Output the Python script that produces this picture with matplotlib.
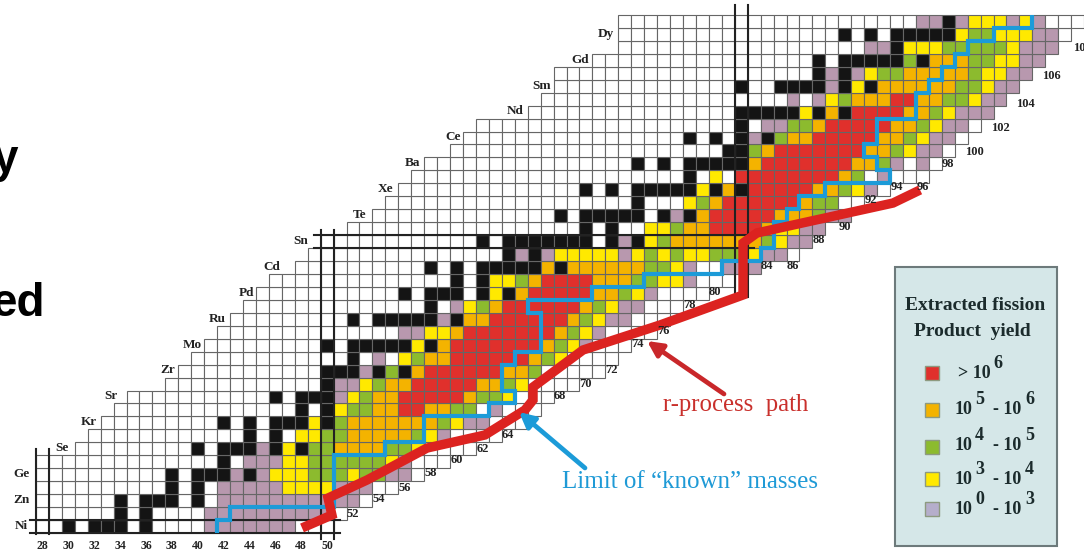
import matplotlib
matplotlib.use('Agg')
import matplotlib.pyplot as plt

# proton number of every row of the chart
z_rows = list(range(28, 68))
row_start = [28, 28, 28, 28, 28, 28, 31, 32, 33, 34, 35, 38, 39, 40, 41, 42, 43, 44, 45, 46,
             48, 49, 50, 52, 54, 55, 56, 57, 58, 60, 61, 62, 66, 67, 68, 68, 71, 73, 73, 73]
row_end = [50, 51, 53, 55, 57, 59, 61, 63, 65, 66, 67, 69, 71, 72, 73, 75, 76, 77, 79, 81,
           83, 86, 87, 88, 90, 91, 93, 96, 97, 98, 99, 100, 101, 102, 103, 104, 105, 106, 107, 108]

# first neutron number with a mark in the row, then one letter per cell
# K stable, P 1e0-1e3, Y 1e3-1e4, G 1e4-1e5, O 1e5-1e6, R >1e6, . nothing
first_mark = [30, 34, 34, 38, 38, 42, 40, 44, 42, 48, 46, 50, 50, 52, 50, 56, 52, 58, 56, 60,
              58, 64, 62, 70, 68, 74, 70, 78, 74, 81, 78, 82, 82, 86, 82, 88, 88, 92, 90, 96]
marks = [
    "K.KKK.K....PPPPPPP",
    "K.K....PPPPPPPPPP",
    "K.KKK.K.PPPPPPPPPPP",
    "K.K.PPPPPYYYYPPP",
    "K.KKKPKPYYYGGGYGGPP",
    "K.PPPYYGGGGGGYP",
    "K.KKKPKYKGGOOOOGGY",
    "K.K.YYGGOOOOOGYP",
    "K.K.KKKYKGOOOOOOOGYPP",
    "K.KYGGOORROOGG.P",
    "K.KKKPYGOORRRRROGGY",
    "KPPYGOORRRRROOGY",
    "KKKPKGKORRRRRROOG",
    "K.P.YGOORRRRRROGY",
    "K.KKKKKYKORRRRRRROGYP",
    "PPYYORRRRRRROGYP",
    "K.KKKKKPKOORRRRRROGYPP",
    "K.PYGORRRRRROGYPP",
    "K.KKK.KYKORRRRROOGYP",
    "K.KYYGORRRROOOGGYYP",
    "K.K.KKKKKOKOOOOOOGGYP..PPP",
    "KPKPYYYYYPYGYGYYGGGYPP",
    "K.KKKKKKK.KPKYGOOOOOOOGYPP",
    "K.K..YYGOORRRROYYPP",
    "K.KKKKK.KPKORRRRROOOGPP",
    "K...YGORRRRRROGG",
    "K.K.KKKKKYKOKRRRRROOGYP",
    "K.Y.RRRRRRRROG.P",
    "K.K.KKKKKORRRRRRROOGP.P",
    "KKGORRRRRRROOGYPP",
    "K.K.KPKGOORRRRROOGYPP",
    "K.PPGGORRRRROOGYPP",
    "KKKKKYKOKRRRROOGYPPP",
    "P.PYGOOORROOGGYPP",
    "K..KKKKPKYKOOOOOOGGYPP",
    "KPKPYGGOOOOOGYYPP",
    "K.KKKKKGKOOOGGYYPP",
    "PPKYYYGGGGGYPPP",
    "K.K.KKKKKYGGYYYPP",
    "PPKPYYYPYP",
]
cell_colors = {'.': 'white', 'K': '#141414', 'P': '#b898ae', 'Y': '#ffe900',
               'G': '#8cbb2e', 'O': '#f4b300', 'R': '#e0302c'}

# limit of known masses and r-process path, in cell edges
blue_n = [42, 42, 43, 43, 51, 51, 55, 55, 58, 58, 63, 63, 65, 65, 64, 64, 65, 65, 67, 67, 66, 66,
          71, 71, 75, 75, 81, 81, 84, 84, 85, 85, 86, 86, 87, 87, 89, 89, 94, 94, 93, 93, 92, 92,
          93, 93, 96, 96, 97, 97, 98, 98, 99, 99, 100, 100, 102, 102, 105, 105]
blue_z = [28, 29, 29, 30, 30, 34, 34, 35, 35, 37, 37, 38, 38, 39, 39, 41, 41, 42, 42, 45, 45, 46,
          46, 47, 47, 48, 48, 49, 49, 50, 50, 52, 52, 53, 53, 54, 54, 55, 55, 56, 56, 57, 57, 58,
          58, 60, 60, 62, 62, 63, 63, 64, 64, 65, 65, 66, 66, 67, 67, 68]
red_n = [48.56, 50.87, 50.57, 53.58, 58.22, 62.70, 65.79, 66.41, 66.41, 70.27, 76.22, 82.64,
         82.64, 83.72, 94.23, 96.32]
red_z = [28.39, 29.39, 30.70, 32.09, 34.56, 35.57, 37.50, 38.27, 39.27, 42.13, 44.06, 46.38,
         50.39, 51.17, 53.48, 54.49]

# element names, the row they sit on and where the name ends
elements = ['Ni', 'Zn', 'Ge', 'Se', 'Kr', 'Sr', 'Zr', 'Mo', 'Ru', 'Pd', 'Cd', 'Sn', 'Te', 'Xe',
            'Ba', 'Ce', 'Nd', 'Sm', 'Gd', 'Dy']
element_z = [28, 30, 32, 34, 36, 38, 40, 42, 44, 46, 48, 50, 52, 54, 56, 58, 60, 62, 64, 66]
element_end = [27.4, 27.5, 27.5, 30.55, 32.7, 34.3, 38.75, 40.8, 42.7, 44.85, 46.85, 49.0, 53.5,
               55.6, 57.7, 60.85, 65.7, 67.8, 70.75, 72.65]

# neutron numbers below the chart and along its right side
bottom_n = [28, 30, 32, 34, 36, 38, 40, 42, 44, 46, 48, 50]
side_n = [52, 54, 56, 58, 60, 62, 64, 68, 70, 72, 74, 76, 78, 80, 84, 86, 88, 90, 92, 94, 96, 98,
          100, 102, 104, 106]
side_z = [29.5, 30.6, 31.5, 32.6, 33.6, 34.5, 35.6, 38.6, 39.5, 40.6, 42.6, 43.6, 45.6, 46.6,
          48.6, 48.6, 50.6, 51.6, 53.7, 54.7, 54.7, 56.5, 57.4, 59.3, 61.1, 63.3]

legend_colors = ['#e0302c', '#f4b300', '#8cbb2e', '#ffe900', '#b5aecb']
legend_low = ['', '5', '4', '3', '0']
legend_high = ['6', '6', '5', '4', '3']

serif = 'Liberation Serif'

fig = plt.figure(figsize=(10.84, 5.5), dpi=100)
ax = fig.add_axes([0, 0, 1, 1])
ax.set_xlim(25.22, 108.99)
ax.set_ylim(26.687, 69.158)
ax.axis('off')

# cells of the chart
cell_n = []
cell_z = []
cell_c = []
for i in range(len(z_rows)):
    for n in range(row_start[i], row_end[i] + 1):
        k = n - first_mark[i]
        letter = '.'
        if 0 <= k < len(marks[i]):
            letter = marks[i][k]
        cell_n.append(n)
        cell_z.append(z_rows[i])
        cell_c.append(cell_colors[letter])
ax.bar(cell_n, 1, width=1, bottom=cell_z, align='edge', color=cell_c,
       edgecolor='#666666', linewidth=0.8, zorder=1)

# magic number lines
for n in [28, 29]:
    ax.plot([n, n], [27.9, 34.5], color='#222222', lw=1.5, zorder=2)
for n in [50, 51]:
    ax.plot([n, n], [27.5, 51.4], color='#222222', lw=1.5, zorder=2)
for n in [82, 83]:
    ax.plot([n, n], [46.2, 68.8], color='#222222', lw=1.5, zorder=2)
for z in [28, 29]:
    ax.plot([27.5, 51.5], [z, z], color='#222222', lw=1.5, zorder=2)
for z in [50, 51]:
    ax.plot([49.5, 83.5], [z, z], color='#222222', lw=1.5, zorder=2)

ax.plot(blue_n, blue_z, color='#1c9bd8', lw=3.0, solid_joinstyle='miter',
        solid_capstyle='butt', zorder=3)
ax.plot(red_n, red_z, color='#dc2320', lw=6.8, solid_joinstyle='miter',
        solid_capstyle='butt', zorder=4)

for i in range(len(elements)):
    ax.text(element_end[i], element_z[i] + 0.55, elements[i], family=serif, weight='bold',
            fontsize=9.5, color='#222222', ha='right', va='center')
for n in bottom_n:
    ax.text(n + 0.5, 27.0, str(n), family=serif, weight='bold', fontsize=8.5, color='#222222',
            ha='center', va='center')
for i in range(len(side_n)):
    ax.text(side_n[i] + 0.5, side_z[i], str(side_n[i]), family=serif, weight='bold', fontsize=9,
            color='#222222', ha='center', va='center', zorder=5)
ax.text(108.15, 65.45, '108', family=serif, weight='bold', fontsize=9, color='#222222',
        ha='left', va='center')

# second axes in picture pixels for the things outside the chart
ov = fig.add_axes([0, 0, 1, 1])
ov.set_xlim(0, 1084)
ov.set_ylim(550, 0)
ov.axis('off')
ov.patch.set_alpha(0)

ov.text(18, 172, 'y', family='Liberation Sans', weight='bold', fontsize=33, ha='right',
        va='baseline', color='black')
ov.text(45, 316, 'ed', family='Liberation Sans', weight='bold', fontsize=33, ha='right',
        va='baseline', color='black')

ov.text(736, 405, 'r-process  path', family=serif, fontsize=17.8, color='#c9302c',
        ha='center', va='center')
ov.text(690, 482, 'Limit of \u201cknown\u201d masses', family=serif, fontsize=18,
        color='#1f9ad6', ha='center', va='center')
ov.annotate('', xy=(647, 341), xytext=(724, 394),
            arrowprops=dict(arrowstyle='-|>,head_width=0.45,head_length=0.9', lw=3.4,
                            color='#c9272a', shrinkA=0, shrinkB=0))
ov.annotate('', xy=(519, 412), xytext=(585, 468),
            arrowprops=dict(arrowstyle='-|>,head_width=0.45,head_length=0.9', lw=3.4,
                            color='#1c9bd8', shrinkA=0, shrinkB=0))

# legend box
ov.fill([895, 1057, 1057, 895, 895], [267, 267, 546, 546, 267], facecolor='#d5e7e8',
        edgecolor='#6d7a7b', lw=1.5, zorder=1)
ov.text(975, 306, 'Extracted fission', family=serif, weight='bold', fontsize=14, color='#1b2b2c',
        ha='center', va='center', zorder=2)
ov.text(972, 331, 'Product  yield', family=serif, weight='bold', fontsize=14, color='#1b2b2c',
        ha='center', va='center', zorder=2)

swatch_y = [373, 410, 447, 479, 509]
text_y = [373, 410, 446, 480, 510]
for i in range(5):
    ov.fill([925, 939, 939, 925], [swatch_y[i] - 7, swatch_y[i] - 7, swatch_y[i] + 7, swatch_y[i] + 7],
            facecolor=legend_colors[i], edgecolor='#8d9a80', lw=1, zorder=2)
    if legend_low[i] == '':
        ov.text(958, text_y[i], '> 10', family=serif, weight='bold', fontsize=13, color='#1b2b2c',
                ha='left', va='center', zorder=2)
        ov.text(993, text_y[i] - 9, legend_high[i], family=serif, weight='bold', fontsize=13,
                color='#1b2b2c', ha='left', va='center', zorder=2)
    else:
        ov.text(955, text_y[i], '10', family=serif, weight='bold', fontsize=13, color='#1b2b2c',
                ha='left', va='center', zorder=2)
        ov.text(975, text_y[i] - 11, legend_low[i], family=serif, weight='bold', fontsize=13,
                color='#1b2b2c', ha='left', va='center', zorder=2)
        ov.text(993, text_y[i], '- 10', family=serif, weight='bold', fontsize=13, color='#1b2b2c',
                ha='left', va='center', zorder=2)
        ov.text(1025, text_y[i] - 11, legend_high[i], family=serif, weight='bold', fontsize=13,
                color='#1b2b2c', ha='left', va='center', zorder=2)

fig.savefig('out.png', dpi=100)
